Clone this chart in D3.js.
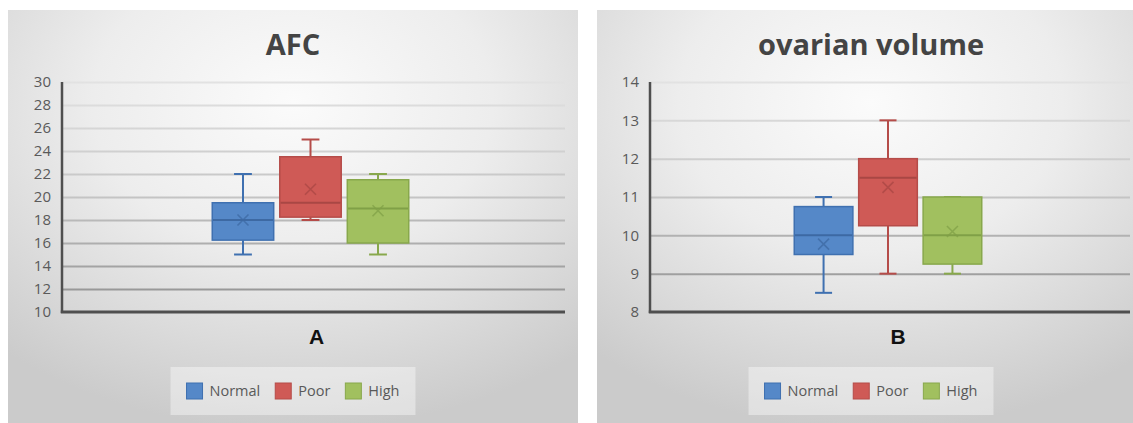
<!DOCTYPE html>
<html>
<head>
<meta charset="utf-8">
<script src="https://cdn.jsdelivr.net/npm/d3@7"></script>
<style>
  html, body { margin: 0; padding: 0; background: #ffffff; }
  svg { display: block; }
</style>
</head>
<body>
<svg id="chart" width="1133" height="423"></svg>
<script>
// Series shared by both panels
const seriesNames = ["Normal", "Poor", "High"];
const seriesFill = ["#5588c8", "#cf5a56", "#a1c05f"];
const seriesStroke = ["#3f70b0", "#b54c49", "#88a84c"];
const seriesDark = ["#3d69a3", "#a94744", "#80a047"];

// Panel A: antral follicle count
const afcCategory = ["A"];
const afcTicks = [10, 12, 14, 16, 18, 20, 22, 24, 26, 28, 30];
const afcMin = [15, 18, 15];
const afcQ1 = [16.25, 18.25, 16];
const afcMedian = [18, 19.5, 19];
const afcQ3 = [19.5, 23.5, 21.5];
const afcMax = [22, 25, 22];
const afcMean = [18, 20.67, 18.8];

// Panel B: ovarian volume
const volCategory = ["B"];
const volTicks = [8, 9, 10, 11, 12, 13, 14];
const volMin = [8.5, 9, 9];
const volQ1 = [9.5, 10.25, 9.25];
const volMedian = [10, 11.5, 10];
const volQ3 = [10.75, 12, 11];
const volMax = [11, 13, 11];
const volMean = [9.77, 11.25, 10.1];

const svg = d3.select("#chart");
const defs = svg.append("defs");

const bg = defs.append("radialGradient")
  .attr("id", "panelBg").attr("cx", "50%").attr("cy", "22%").attr("r", "78%");
bg.append("stop").attr("offset", "0").attr("stop-color", "#fbfbfb");
bg.append("stop").attr("offset", "0.45").attr("stop-color", "#ededed");
bg.append("stop").attr("offset", "1").attr("stop-color", "#cbcbcb");

function drawPanel(cfg) {
  const g = svg.append("g");
  const top = 82, bottom = 312;

  g.append("rect")
    .attr("x", cfg.left).attr("y", 10)
    .attr("width", cfg.right - cfg.left).attr("height", 420)
    .attr("fill", "url(#panelBg)");

  // gridline colour darkens toward the bottom of the plot
  const gid = "grid" + cfg.id;
  const gg = defs.append("linearGradient").attr("id", gid)
    .attr("gradientUnits", "userSpaceOnUse")
    .attr("x1", 0).attr("x2", 0).attr("y1", top).attr("y2", bottom);
  gg.append("stop").attr("offset", "0").attr("stop-color", "#e2e2e2");
  gg.append("stop").attr("offset", "0.5").attr("stop-color", "#c4c4c4");
  gg.append("stop").attr("offset", "1").attr("stop-color", "#8e8e8e");

  const y = d3.scaleLinear().domain(cfg.domain).range([bottom, top]);
  const xCat = d3.scaleBand().domain(cfg.category)
    .range([cfg.axisX, cfg.plotRight]).paddingInner(0).paddingOuter(0.78);
  const xSer = d3.scaleBand().domain(seriesNames)
    .range([0, xCat.bandwidth()]).paddingInner(0.09).paddingOuter(0);

  // gridlines
  g.append("g").selectAll("line")
    .data(cfg.ticks.filter(t => t !== cfg.domain[0]))
    .join("line")
    .attr("x1", cfg.axisX).attr("x2", cfg.plotRight)
    .attr("y1", d => y(d) + 0.5).attr("y2", d => y(d) + 0.5)
    .attr("stroke", `url(#${gid})`).attr("stroke-width", 2);

  // y axis labels
  const yAxis = d3.axisLeft(y).tickValues(cfg.ticks).tickSize(0).tickPadding(11)
    .tickFormat(d3.format("d"));
  const ya = g.append("g").attr("transform", `translate(${cfg.axisX},0)`).call(yAxis);
  ya.select(".domain").remove();
  ya.selectAll("text")
    .attr("font-family", "'Open Sans', sans-serif").attr("font-size", 15)
    .attr("fill", "#5a5a5a");

  // boxes
  const boxes = seriesNames.map((s, i) => ({
    name: s, i, min: cfg.min[i], q1: cfg.q1[i], med: cfg.median[i],
    q3: cfg.q3[i], max: cfg.max[i], mean: cfg.mean[i]
  }));
  const x0 = xCat(cfg.category[0]) + cfg.groupShift;
  const bw = xSer.bandwidth();
  const cap = bw * 0.29;
  const bg2 = g.append("g").selectAll("g").data(boxes).join("g")
    .attr("transform", d => `translate(${x0 + xSer(d.name)},0)`);

  // whiskers
  bg2.append("line")
    .attr("x1", bw / 2).attr("x2", bw / 2)
    .attr("y1", d => y(d.max)).attr("y2", d => y(d.q3))
    .attr("stroke", d => seriesStroke[d.i]).attr("stroke-width", 2);
  bg2.append("line")
    .attr("x1", bw / 2).attr("x2", bw / 2)
    .attr("y1", d => y(d.q1)).attr("y2", d => y(d.min))
    .attr("stroke", d => seriesStroke[d.i]).attr("stroke-width", 2);
  bg2.append("line")
    .attr("x1", bw / 2 - cap / 2).attr("x2", bw / 2 + cap / 2)
    .attr("y1", d => y(d.max)).attr("y2", d => y(d.max))
    .attr("stroke", d => seriesStroke[d.i]).attr("stroke-width", 2);
  bg2.append("line")
    .attr("x1", bw / 2 - cap / 2).attr("x2", bw / 2 + cap / 2)
    .attr("y1", d => y(d.min)).attr("y2", d => y(d.min))
    .attr("stroke", d => seriesStroke[d.i]).attr("stroke-width", 2);

  // box body
  bg2.append("rect")
    .attr("x", 0).attr("width", bw)
    .attr("y", d => y(d.q3)).attr("height", d => y(d.q1) - y(d.q3))
    .attr("fill", d => seriesFill[d.i])
    .attr("stroke", d => seriesStroke[d.i]).attr("stroke-width", 1.5);

  // median
  bg2.append("line")
    .attr("x1", 0.75).attr("x2", bw - 0.75)
    .attr("y1", d => y(d.med)).attr("y2", d => y(d.med))
    .attr("stroke", d => seriesDark[d.i]).attr("stroke-width", 2);

  // mean marker
  const m = 5.5;
  bg2.append("path")
    .attr("d", d => {
      const cx = bw / 2, cy = y(d.mean);
      return `M${cx - m},${cy - m}L${cx + m},${cy + m}M${cx - m},${cy + m}L${cx + m},${cy - m}`;
    })
    .attr("stroke", d => seriesDark[d.i]).attr("stroke-opacity", 0.75)
    .attr("stroke-width", 1.6).attr("fill", "none");

  // axis lines
  g.append("line")
    .attr("x1", cfg.axisX).attr("x2", cfg.axisX)
    .attr("y1", top).attr("y2", bottom + 1)
    .attr("stroke", "#4f4f4f").attr("stroke-width", 2.5);
  g.append("line")
    .attr("x1", cfg.axisX - 1.2).attr("x2", cfg.plotRight)
    .attr("y1", bottom).attr("y2", bottom)
    .attr("stroke", "#4f4f4f").attr("stroke-width", 3);

  // category label
  g.append("text")
    .attr("x", xCat(cfg.category[0]) + xCat.bandwidth() / 2 + cfg.catShift)
    .attr("y", 344)
    .attr("text-anchor", "middle")
    .attr("font-family", "'Liberation Sans', Arial, sans-serif")
    .attr("font-weight", "bold").attr("font-size", 21)
    .attr("fill", "#111111")
    .text(cfg.category[0]);

  // title
  g.append("text")
    .attr("x", cfg.center).attr("y", 55)
    .attr("text-anchor", "middle")
    .attr("font-family", "'Open Sans', sans-serif")
    .attr("font-weight", "bold").attr("font-size", 29)
    .attr("fill", "#444444")
    .text(cfg.title);

  // legend
  const lg = g.append("g");
  const lbox = lg.append("rect");
  const items = lg.selectAll("g").data(seriesNames).join("g");
  items.append("rect")
    .attr("width", 16).attr("height", 16).attr("y", -8)
    .attr("fill", (d, i) => seriesFill[i])
    .attr("stroke", (d, i) => seriesStroke[i]).attr("stroke-width", 1);
  items.append("text")
    .attr("x", 23).attr("dy", "0.35em")
    .attr("font-family", "'Open Sans', sans-serif").attr("font-size", 14.5)
    .attr("fill", "#595959")
    .text(d => d);
  const offsets = [];
  let cursor = 0;
  items.each(function () {
    offsets.push(cursor);
    cursor += 23 + d3.select(this).select("text").node().getComputedTextLength() + 15;
  });
  const contentW = cursor - 15;
  const pad = 16;
  const lx = cfg.center - contentW / 2;
  items.attr("transform", (d, i) => `translate(${lx + offsets[i]},391)`);
  lbox.attr("x", lx - pad).attr("y", 367)
    .attr("width", contentW + pad * 2).attr("height", 48)
    .attr("fill", "#ffffff").attr("fill-opacity", 0.4);
}

drawPanel({
  id: "A", left: 8, right: 578, center: 293,
  axisX: 62, plotRight: 565, catShift: 3, groupShift: -3,
  domain: [10, 30], ticks: afcTicks, category: afcCategory, title: "AFC",
  min: afcMin, q1: afcQ1, median: afcMedian, q3: afcQ3, max: afcMax, mean: afcMean
});

drawPanel({
  id: "B", left: 597, right: 1145, center: 871,
  axisX: 650, plotRight: 1130, catShift: 8, groupShift: -2,
  domain: [8, 14], ticks: volTicks, category: volCategory, title: "ovarian volume",
  min: volMin, q1: volQ1, median: volMedian, q3: volQ3, max: volMax, mean: volMean
});
</script>
</body>
</html>
